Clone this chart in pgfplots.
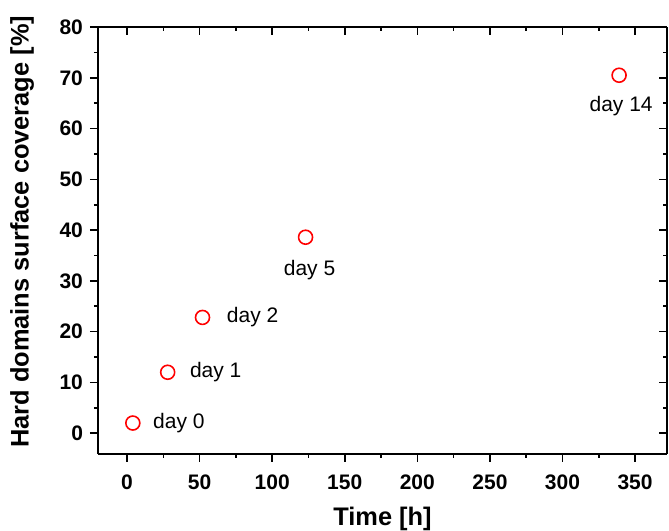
\documentclass[border=0pt]{standalone}
\usepackage{pgfplots}
\pgfplotsset{compat=1.18}
\usepackage{fontspec}
\setmainfont{Liberation Sans}
\begin{document}
\begin{tikzpicture}[x=1pt,y=1pt]
\useasboundingbox (-49,-38.25) rectangle (285.5,226.75);
\pgfplotsset{common/.style={
  width=284.5pt, height=213.25pt, scale only axis, at={(0,0)}, anchor=south west,
  xmin=-20, xmax=372, ymin=-4, ymax=80,
  xtick={0,50,...,350}, ytick={0,10,...,80},
  minor x tick num=1, minor y tick num=1,
  major tick length=4pt, minor tick length=2pt,
  axis line style={-, line width=1pt},
  every tick/.style={black, line width=0.8pt},
  /pgf/number format/assume math mode=true,
  tick label style={font=\fontsize{10.5}{12}\selectfont\bfseries},
}}
\begin{axis}[common, axis x line*=top, axis y line*=right, tick align=inside,
  xticklabels={}, yticklabels={}]
\end{axis}
\begin{axis}[common, axis x line*=bottom, axis y line*=left, tick align=outside,
  xticklabel style={yshift=-3pt},
  xlabel={Time [h]}, ylabel={Hard domains surface coverage [\%]},
  label style={font=\fontsize{12.7}{14}\selectfont\bfseries},
  xlabel style={at={(axis description cs:0.5,0)}, anchor=base, yshift=-35.75pt},
  ylabel style={at={(axis description cs:0,0.52)}, anchor=center, yshift=38pt},
]
\addplot[only marks, mark=o, red, mark size=3.5pt, line width=0.8pt] coordinates {
(4,2) (28,12) (52,22.8) (123,38.6) (339,70.5)
};
\begin{scope}[every node/.style={font=\fontsize{10.5}{12}\selectfont, inner sep=0pt}]
\node[anchor=west, xshift=10pt] at (axis cs:4,2) {day 0};
\node[anchor=west, xshift=11pt] at (axis cs:28,12) {day 1};
\node[anchor=west, xshift=12pt] at (axis cs:52,22.8) {day 2};
\node[anchor=center, xshift=2pt, yshift=-16.5pt] at (axis cs:123,38.6) {day 5};
\node[anchor=center, xshift=1pt, yshift=-15.5pt] at (axis cs:339,70.5) {day 14};
\end{scope}
\end{axis}
\end{tikzpicture}
\end{document}
